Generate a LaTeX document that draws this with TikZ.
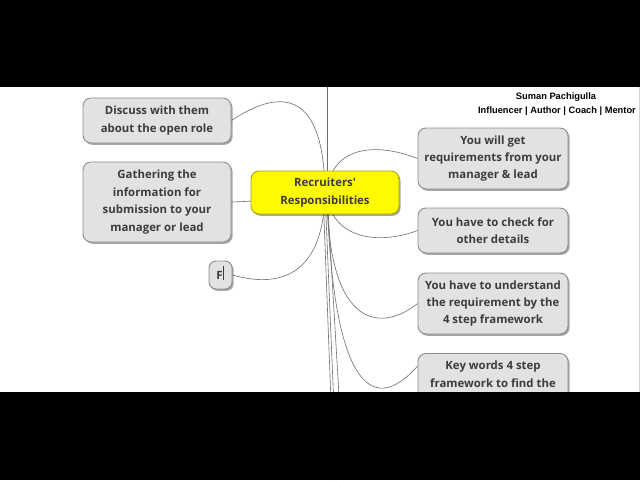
\documentclass[tikz,border=0pt]{standalone}
\usepackage{fontspec}
\setmainfont{Open Sans}[Ligatures=TeXOff]
\newfontfamily\hdrfont{Liberation Sans}
\usetikzlibrary{shadows}
\definecolor{boxfill}{RGB}{226,226,226}
\definecolor{boxline}{RGB}{140,140,140}
\definecolor{boxtext}{RGB}{60,60,60}
\definecolor{yfill}{RGB}{255,250,0}
\definecolor{yline}{RGB}{170,165,0}
\definecolor{conncol}{RGB}{110,110,110}
\pgfdeclarelayer{bg}\pgfdeclarelayer{conn}\pgfdeclarelayer{fg}
\pgfsetlayers{bg,conn,main,fg}
\tikzset{
  topic/.style={draw=boxline, fill=boxfill, line width=0.9pt, rounded corners=8pt,
    text=boxtext, font=\fontsize{11.4}{17.4}\selectfont\bfseries, align=center,
    inner sep=0pt,
    drop shadow={shadow xshift=1.6pt, shadow yshift=-1.8pt, fill=black, opacity=0.35}},
  central/.style={topic, fill=yfill, draw=yline},
  link/.style={draw=conncol, line width=0.6pt},
  hdr/.style={font=\hdrfont\fontsize{9.3}{11}\selectfont\bfseries, text=black, inner sep=0pt}
}
\begin{document}
\begin{tikzpicture}[x=1pt,y=-1pt]
\useasboundingbox (0,0) rectangle (640,480);
\begin{pgfonlayer}{bg}
  \fill[white] (0,0) rectangle (640,480);
  \draw[gray!35, line width=0.8pt] (639,87) -- (639,392);
\end{pgfonlayer}

\node[central, minimum width=148pt, minimum height=43pt] (c) at (325,192.5) {Recruiters'\\Responsibilities};
\node[topic, minimum width=148pt, minimum height=45pt] (d) at (157,120.5) {Discuss with them\\about the open role};
\node[topic, minimum width=148pt, minimum height=80pt] (g) at (157,202) {Gathering the\\information for\\submission to your\\manager or lead};
\node[topic, minimum width=23pt, minimum height=28pt, rounded corners=7pt] (f) at (220.5,275) {F\hspace{2pt}};
\draw[boxtext, line width=0.8pt] ([xshift=2.5pt,yshift=-5pt]f.center) -- ([xshift=2.5pt,yshift=9pt]f.center);
\node[topic, minimum width=150pt, minimum height=61pt] (r) at (493,158.5) {You will get\\requirements from your\\manager \& lead};
\node[topic, minimum width=150pt, minimum height=45pt] (k) at (493,230.5) {You have to check for\\other details};
\node[topic, minimum width=150pt, minimum height=61pt] (u) at (493,303.5) {You have to understand\\the requirement by the\\4 step framework};
\node[topic, minimum width=150pt, minimum height=90pt, anchor=north] (w) at (493,353) {};
\node[anchor=north, text=boxtext, font=\fontsize{11.4}{17.4}\selectfont\bfseries, align=center, inner sep=0pt] (wt) at (493,361) {Key words 4 step\\framework to find the};

\node[hdr] (h1) at (556,97) {Suman Pachigulla};
\node[hdr, anchor=east] (h2) at (636,111) {Influencer | Author | Coach | Mentor};

\coordinate (up) at (327,80);
\coordinate (dn1) at (334,480);
\coordinate (dn2) at (337,480);
\coordinate (dn3) at (344,480);

\begin{pgfonlayer}{conn}
  \draw[link] ([xshift=2pt]c.center) -- (up);
  \draw[link] (c.center) .. controls (324,95) and (285,85) .. (d.east);
  \draw[link] (c.center) .. controls (290,199) and (260,201) .. (g.east);
  \draw[link] (c.center) .. controls (324,270) and (285,290) .. (f.east);
  \draw[link] ([xshift=2pt]c.center) .. controls (330,150) and (370,140) .. (r.west);
  \draw[link] ([xshift=2pt]c.center) .. controls (330,240) and (380,245) .. (k.west);
  \draw[link] ([xshift=2pt]c.center) .. controls (328,335) and (385,330) .. (u.west);
  \draw[link] ([xshift=2pt]c.center) .. controls (332,380) and (370,420) .. ([yshift=-13pt]w.north west);
  \draw[link] ([xshift=-2pt]c.center) -- (dn1);
  \draw[link] (c.center) -- (dn2);
  \draw[link] ([xshift=2pt]c.center) -- (dn3);
\end{pgfonlayer}

\begin{pgfonlayer}{fg}
  \fill[black] (0,0) rectangle (640,87);
  \fill[black] (0,392) rectangle (640,480);
\end{pgfonlayer}
\end{tikzpicture}
\end{document}
